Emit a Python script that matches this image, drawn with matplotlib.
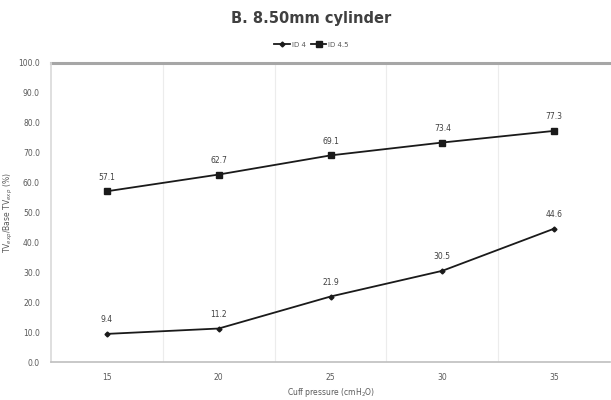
import numpy as np
import matplotlib.pyplot as plt

pressure = ["15", "20", "25", "30", "35"]
id4 = [9.4, 11.2, 21.9, 30.5, 44.6]
id45 = [57.1, 62.7, 69.1, 73.4, 77.3]
yticks = [0, 10, 20, 30, 40, 50, 60, 70, 80, 90, 100]

txt = "#595959"
grid = "#d9d9d9"

fig = plt.figure(figsize=(6.11, 4.0), dpi=100)
ax = fig.add_axes([0.0835, 0.095, 0.915, 0.7475])

x = np.arange(len(pressure))
ax.plot(x, id4, color="#1a1a1a", lw=1.3, marker="D", ms=2.5, label="ID 4")
ax.plot(x, id45, color="#1a1a1a", lw=1.3, marker="s", ms=4, label="ID 4.5")

for xi, v in zip(x, id4):
    ax.annotate(f"{v:.1f}", (xi, v), xytext=(0, 7), textcoords="offset points",
                ha="center", va="bottom", fontsize=5.5, color="#404040")
for xi, v in zip(x, id45):
    ax.annotate(f"{v:.1f}", (xi, v), xytext=(0, 7), textcoords="offset points",
                ha="center", va="bottom", fontsize=5.5, color="#404040")

ax.set_xlim(-0.5, len(pressure) - 0.5)
ax.set_ylim(0, 100)
ax.set_xticks(x)
ax.set_xticklabels(pressure)
ax.set_yticks(yticks)
ax.set_yticklabels([f"{t:.1f}" for t in yticks])
ax.tick_params(length=0, labelsize=5.5, labelcolor=txt, pad=8)

# vertical separators between categories
for b in np.arange(0.5, len(pressure) - 0.5, 1):
    ax.axvline(b, color="#ececec", lw=0.8, zorder=0)
ax.axhline(100, color="#a6a6a6", lw=2.2, clip_on=False)

ax.spines["top"].set_visible(False)
ax.spines["right"].set_visible(False)
ax.spines["left"].set_color(grid)
ax.spines["left"].set_linewidth(1.2)
ax.spines["bottom"].set_color("#bfbfbf")
ax.spines["bottom"].set_linewidth(1.2)

ax.set_xlabel("Cuff pressure (cmH$_2$O)", fontsize=5.5, color=txt, labelpad=3)
ax.set_ylabel("TV$_{exp}$/Base TV$_{exp}$ (%)", fontsize=5.5, color=txt, labelpad=2)

fig.text(0.51, 0.955, "B. 8.50mm cylinder", ha="center", va="center",
         fontsize=10.5, fontweight="bold", color="#404040")
fig.legend(loc="center", bbox_to_anchor=(0.51, 0.888), ncol=2, frameon=False,
           fontsize=5, labelcolor=txt, handlelength=2.2, columnspacing=0.8,
           handletextpad=0.3)

fig.savefig("out.png", dpi=100)
